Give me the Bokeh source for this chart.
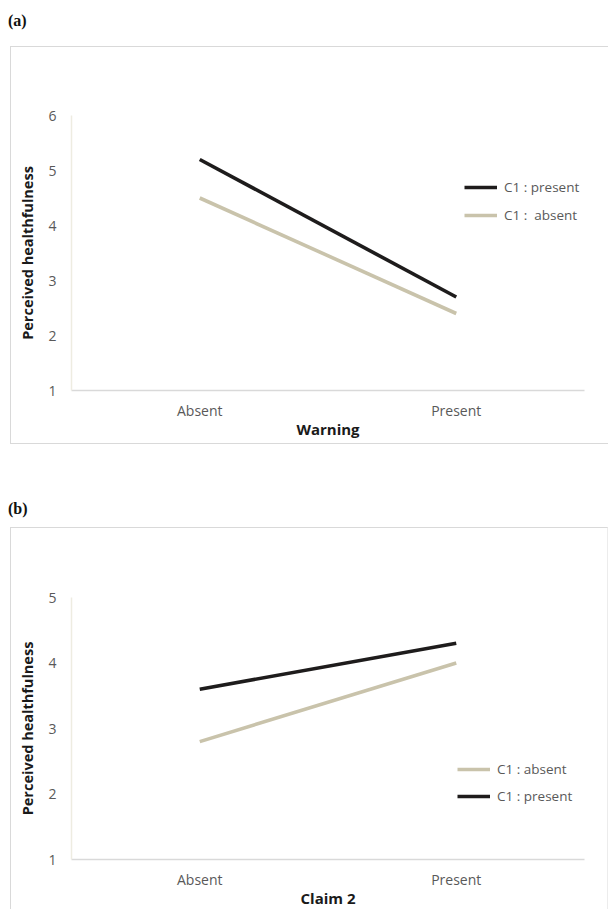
from bokeh.plotting import figure
from bokeh.models import FactorRange, Range1d, FixedTicker, Div, Legend
from bokeh.layouts import column
from bokeh.embed import file_html
from bokeh.resources import INLINE

categories = ["Absent", "Present"]
a_present = [5.2, 2.7]
a_absent = [4.5, 2.4]
a_yticks = [1, 2, 3, 4, 5, 6]
b_absent = [2.8, 4.0]
b_present = [3.6, 4.3]
b_yticks = [1, 2, 3, 4, 5]

BLACK = "#1e1c1c"
TAN = "#c9c3ab"
FONT = "Open Sans"
GRAY = "#595959"


def make_panel(xlabel, ymax, yticks, series, legend_xy, spacing, height, mtop, mbottom, mright, border):
    p = figure(x_range=FactorRange(factors=categories, range_padding=0),
               y_range=Range1d(1, ymax),
               width=598, height=height, output_backend="svg", toolbar_location=None,
               min_border_left=60, min_border_right=mright,
               min_border_top=mtop, min_border_bottom=mbottom,
               margin=(0, 0, 0, 10), styles=border)
    p.outline_line_color = None
    p.xgrid.grid_line_color = None
    p.ygrid.grid_line_color = None
    items = []
    for name, vals, col in series:
        r = p.line(categories, vals, line_color=col, line_width=3.6)
        items.append((name, [r]))
    leg = Legend(items=items, location=legend_xy, padding=0, margin=0, spacing=spacing,
                 border_line_color=None, background_fill_alpha=0,
                 label_text_font=FONT, label_text_font_size="13.5px", label_text_color=GRAY,
                 glyph_width=33, glyph_height=20, label_height=20, label_standoff=7)
    p.add_layout(leg, "center")

    xa = p.xaxis[0]
    xa.axis_line_color = "#d9d9d9"
    xa.axis_line_width = 1.5
    xa.major_tick_line_color = None
    xa.minor_tick_line_color = None
    xa.major_tick_out = 0
    xa.major_tick_in = 0
    xa.minor_tick_out = 0
    xa.major_label_standoff = 10
    xa.major_label_text_font = FONT
    xa.major_label_text_font_size = "14px"
    xa.major_label_text_color = GRAY
    xa.axis_label = xlabel
    xa.axis_label_text_font = FONT
    xa.axis_label_text_font_size = "15px"
    xa.axis_label_text_font_style = "bold"
    xa.axis_label_text_color = "#1a1a1a"
    xa.axis_label_standoff = -4

    ya = p.yaxis[0]
    ya.ticker = FixedTicker(ticks=yticks)
    ya.axis_line_color = "#eeece1"
    ya.axis_line_width = 1.5
    ya.major_tick_line_color = None
    ya.minor_tick_line_color = None
    ya.major_tick_out = 0
    ya.major_tick_in = 0
    ya.minor_tick_out = 0
    ya.major_label_standoff = 15
    ya.major_label_text_font = FONT
    ya.major_label_text_font_size = "14px"
    ya.major_label_text_color = GRAY
    ya.axis_label = "Perceived healthfulness"
    ya.axis_label_text_font = FONT
    ya.axis_label_text_font_size = "14.5px"
    ya.axis_label_text_font_style = "bold"
    ya.axis_label_text_color = "#1a1a1a"
    ya.axis_label_standoff = 8
    return p


def label_div(txt, height, top):
    return Div(text=f'<div style="margin-top:{top}px;font-family:\'Liberation Serif\';'
                    f'font-weight:bold;font-size:16px;color:#111">{txt}</div>',
               width=100, height=height, margin=(0, 0, 0, 8))


border_a = {"border-top": "1.5px solid #d9d9d9", "border-left": "1.5px solid #d9d9d9",
            "border-bottom": "1.5px solid #d9d9d9"}
border_b = {"border-top": "1.5px solid #d9d9d9", "border-left": "1.5px solid #d9d9d9",
            "border-right": "1px solid #ececec"}

pa = make_panel("Warning", 6, a_yticks,
                [("C1 : present", a_present, BLACK), ("C1 :  absent", a_absent, TAN)],
                (393, 165), 8, 398, 68, 55, 20, border_a)
pb = make_panel("Claim 2", 5, b_yticks,
                [("C1 : absent", b_absent, TAN), ("C1 : present", b_present, BLACK)],
                (386, 53), 7, 382, 69, 49, 25, border_b)

layout = column(label_div("(a)", 46, 10), pa, label_div("(b)", 83, 54), pb, spacing=0)

open("out.html", "w").write(file_html(layout, INLINE))
